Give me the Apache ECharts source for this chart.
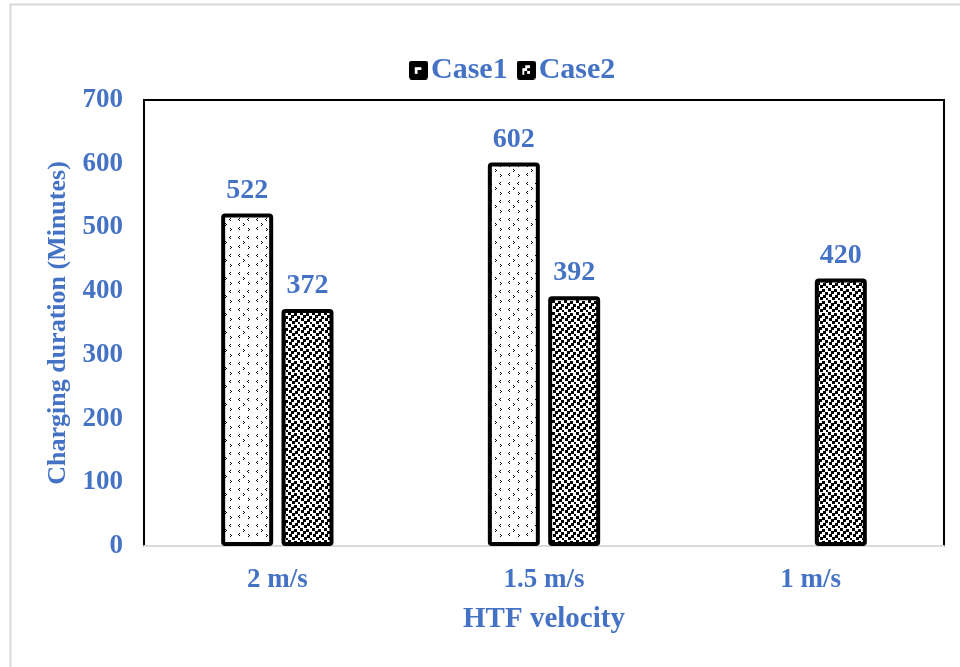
<!DOCTYPE html>
<html>
<head>
<meta charset="utf-8">
<script src="https://cdn.jsdelivr.net/npm/echarts@6/dist/echarts.min.js"></script>
<style>
  html, body { margin: 0; padding: 0; background: #fff; }
  #chart { width: 960px; height: 667px; }
</style>
</head>
<body>
<div id="chart"></div>
<script>
// HTF velocity categories and charging durations (minutes)
const categories = ['2 m/s', '1.5 m/s', '1 m/s'];
const case1 = [522, 602, null];
const case2 = [372, 392, 420];
const seriesNames = ['Case1', 'Case2'];
const yTicks = { min: 0, max: 700, interval: 100 };

const BLUE = '#4472C4';
const FONT = '"Liberation Serif", "Times New Roman", serif';

// Sparse dotted fill: small "<" / ">" marks on white
function sparsePattern() {
  const c = document.createElement('canvas');
  c.width = 18; c.height = 18;
  const g = c.getContext('2d');
  g.fillStyle = '#fff'; g.fillRect(0, 0, 18, 18);
  g.fillStyle = '#000';
  const lt = [[5, 2], [14, 2], [5, 11]];
  lt.forEach(([x, y]) => {
    g.fillRect(x, y, 1, 1);
    g.fillRect(x - 1, y + 1, 1, 1);
    g.fillRect(x, y + 2, 1, 1);
  });
  const gt = [[9, 7], [14, 12]];
  gt.forEach(([x, y]) => {
    g.fillRect(x, y, 1, 1);
    g.fillRect(x + 1, y + 1, 1, 1);
    g.fillRect(x, y + 2, 1, 1);
  });
  return c;
}

// Dense fill: small black squares on white
function densePattern() {
  const c = document.createElement('canvas');
  c.width = 12; c.height = 12;
  const g = c.getContext('2d');
  g.fillStyle = '#fff'; g.fillRect(0, 0, 12, 12);
  g.fillStyle = '#000';
  const sq = [[0, 0], [6, 1], [3, 3], [9, 4], [1, 6], [7, 7], [4, 9], [10, 10]];
  sq.forEach(([x, y]) => g.fillRect(x, y, 3, 3));
  return c;
}

// Legend swatches: black square with a small white mark
function legendIcon(kind) {
  const c = document.createElement('canvas');
  c.width = 20; c.height = 20;
  const g = c.getContext('2d');
  g.fillStyle = '#000';
  g.beginPath();
  if (g.roundRect) g.roundRect(0, 0, 20, 20, 3); else g.rect(0, 0, 20, 20);
  g.fill();
  g.fillStyle = '#fff';
  if (kind === 1) {
    g.fillRect(6, 7, 7, 7);
    g.fillStyle = '#000';
    g.fillRect(9, 10, 4, 4);
  } else {
    g.fillRect(9, 5, 5, 3);
    g.fillRect(6, 8, 5, 3);
    g.fillRect(6, 11, 2, 4);
    g.fillRect(11, 11, 3, 3);
  }
  return 'image://' + c.toDataURL();
}

const chart = echarts.init(document.getElementById('chart'), null, { renderer: 'canvas' });

const labelStyle = {
  show: true,
  position: 'top',
  distance: 9,
  color: BLUE,
  fontFamily: FONT,
  fontWeight: 'bold',
  fontSize: 28
};

chart.setOption({
  backgroundColor: '#fff',
  animation: false,
  graphic: [{
    type: 'rect',
    shape: { x: 10.5, y: 4.5, width: 1000, height: 1000 },
    style: { fill: 'none', stroke: '#d9d9d9', lineWidth: 2 },
    silent: true,
    z: -1
  }],
  legend: {
    top: 50,
    left: 404,
    itemWidth: 19,
    itemHeight: 19,
    itemGap: 9,
    textStyle: { color: BLUE, fontFamily: FONT, fontWeight: 'bold', fontSize: 30, padding: [0, 0, 0, -2] },
    data: [
      { name: seriesNames[0], icon: legendIcon(1) },
      { name: seriesNames[1], icon: legendIcon(2) }
    ]
  },
  grid: {
    left: 144,
    right: 16,
    top: 100,
    bottom: 121,
    show: true,
    borderColor: '#000',
    borderWidth: 2,
    containLabel: false
  },
  xAxis: {
    type: 'category',
    data: categories,
    name: 'HTF velocity',
    nameLocation: 'middle',
    nameGap: 59,
    nameTextStyle: { color: BLUE, fontFamily: FONT, fontWeight: 'bold', fontSize: 29 },
    axisLine: { show: true, lineStyle: { color: '#d9d9d9', width: 2 } },
    axisTick: { show: false },
    axisLabel: { color: BLUE, fontFamily: FONT, fontWeight: 'bold', fontSize: 27, margin: 21 },
    splitLine: { show: false }
  },
  yAxis: {
    type: 'value',
    min: yTicks.min,
    max: yTicks.max,
    interval: yTicks.interval,
    name: 'Charging duration (Minutes)',
    nameLocation: 'middle',
    nameGap: 64,
    nameTextStyle: { color: BLUE, fontFamily: FONT, fontWeight: 'bold', fontSize: 26 },
    axisLine: { show: false },
    axisTick: { show: false },
    axisLabel: { color: BLUE, fontFamily: FONT, fontWeight: 'bold', fontSize: 27, margin: 21 },
    splitLine: { show: false }
  },
  series: [
    {
      name: seriesNames[0],
      type: 'bar',
      data: case1,
      barWidth: 52,
      barGap: '16%',
      itemStyle: {
        color: { image: sparsePattern(), repeat: 'repeat' },
        borderColor: '#000',
        borderWidth: 4,
        borderRadius: 2
      },
      label: labelStyle
    },
    {
      name: seriesNames[1],
      type: 'bar',
      data: case2,
      barWidth: 52,
      barGap: '16%',
      itemStyle: {
        color: { image: densePattern(), repeat: 'repeat' },
        borderColor: '#000',
        borderWidth: 4,
        borderRadius: 2
      },
      label: labelStyle
    }
  ]
});
</script>
</body>
</html>
